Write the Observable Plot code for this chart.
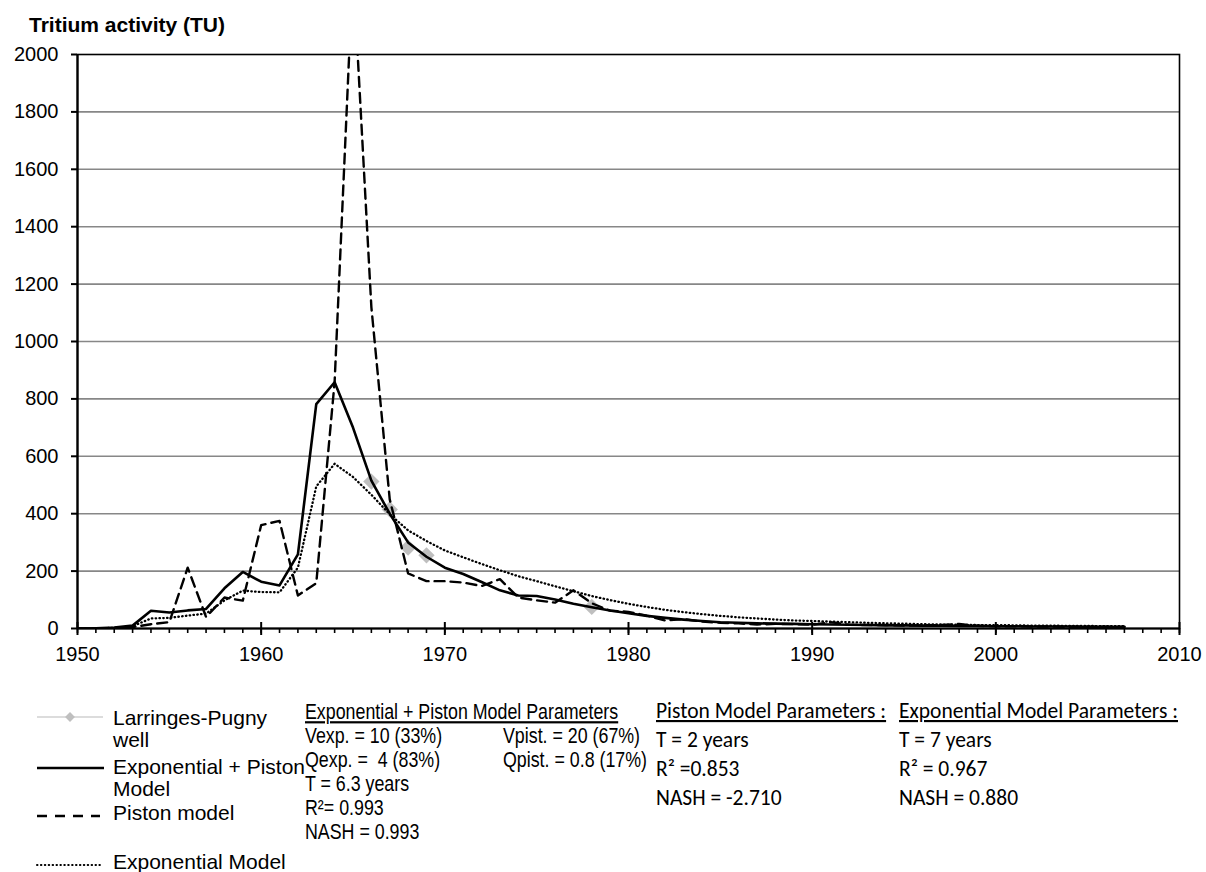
<!DOCTYPE html>
<html><head><meta charset="utf-8">
<script src="https://cdn.jsdelivr.net/npm/d3@7"></script>
<script src="https://cdn.jsdelivr.net/npm/@observablehq/plot@0.6"></script>
<style>
body{margin:0;background:#fff;width:1206px;height:872px;overflow:hidden;position:relative;font-family:"Liberation Sans",Arial,sans-serif;}
#title{position:absolute;left:29px;top:14px;font-weight:bold;font-size:21px;line-height:21px;color:#000;white-space:nowrap;}
#chart svg{display:block;}
#legend{display:block;}
#legend text{white-space:pre;}
</style></head><body>
<div id="title">Tritium activity (TU)</div>
<div id="chart"></div>
<svg id="legend" width="1206" height="192"></svg>
<script>
const years = [1950,1951,1952,1953,1954,1955,1956,1957,1958,1959,1960,1961,1962,1963,1964,1965,1966,1967,1968,1969,
  1970,1971,1972,1973,1974,1975,1976,1977,1978,1979,1980,1981,1982,1983,1984,1985,1986,1987,1988,1989,
  1990,1991,1992,1993,1994,1995,1996,1997,1998,1999,2000,2001,2002,2003,2004,2005,2006,2007];
const expPiston = [0,1,3,10,62,56,63,68,140,197,163,150,258,782,858,700,515,400,300,250,
  212,190,162,133,115,113,101,86,74,63,53,44,37,31,26,22,20,18,17,16,
  15,14,13,12,11,11,10,10,9,9,8,8,7,7,7,6,6,6];
const piston = [0,0,1,5,15,22,212,40,108,97,360,375,115,158,860,2300,1120,450,192,165,
  165,160,148,172,108,98,90,133,88,62,58,45,28,33,24,20,18,14,16,15,
  13,22,13,12,12,10,11,12,16,9,8,8,7,7,6,6,6,5];
const exponential = [0,1,2,8,35,37,45,52,98,132,127,126,212,495,574,528,466,398,342,305,
  272,248,225,203,182,165,147,130,113,99,86,75,65,57,50,44,39,35,31,28,
  26,24,22,20,18,17,15,14,13,12,12,11,10,10,9,9,8,8];
const obsYears = [1966,1967,1968,1969,1978];
const obsValues = [512,415,282,255,75];
const yTicks = [0,200,400,600,800,1000,1200,1400,1600,1800,2000];
const xTicks = [1950,1960,1970,1980,1990,2000,2010];
const xMinorTicks = d3.range(1950, 2011);

const rows = vals => years.map((y, i) => ({year: y, value: vals[i]}));
const obs = obsYears.map((y, i) => ({year: y, value: obsValues[i]}));

const plot = Plot.plot({
  width: 1206, height: 680,
  marginLeft: 77, marginRight: 27, marginTop: 54, marginBottom: 52,
  style: {fontFamily: "'Liberation Sans', Arial, sans-serif", fontSize: "20px", color: "#000", background: "#fff", overflow: "visible"},
  x: {domain: [1950, 2010], label: null},
  y: {domain: [0, 2000], label: null},
  marks: [
    Plot.ruleY(yTicks.slice(1, -1), {stroke: "#878787", strokeWidth: 1.6}),
    Plot.dot(obs, {x: "year", y: "value", symbol: "square", r: 6.5, rotate: 45, fill: "#bfbfbf", stroke: "none"}),
    Plot.line(rows(exponential), {x: "year", y: "value", stroke: "#000", strokeWidth: 2.3, strokeDasharray: "0.5,3.3", strokeLinecap: "round", clip: true}),
    Plot.line(rows(piston), {x: "year", y: "value", stroke: "#000", strokeWidth: 2.4, strokeDasharray: "10,6", clip: true}),
    Plot.line(rows(expPiston), {x: "year", y: "value", stroke: "#000", strokeWidth: 2.6, clip: true}),
    Plot.frame({stroke: "#000", strokeWidth: 1.6}),
    Plot.ruleX([1950], {stroke: "#000", strokeWidth: 2.2}),
    Plot.ruleY([0], {stroke: "#000", strokeWidth: 2.2}),
    Plot.axisY({ticks: yTicks, tickSize: 6, tickPadding: 13, tickFormat: d => String(d), strokeWidth: 2}),
    Plot.axisX({ticks: xMinorTicks, tickSize: 5, tickFormat: () => "", strokeWidth: 1.6}),
    Plot.ruleX(xTicks, {y1: 0, y2: 0, insetTop: -6, insetBottom: -7, stroke: "#000", strokeWidth: 2}),
    Plot.axisX({ticks: xTicks, tickSize: 0, tickPadding: 18, tickFormat: d => String(d)})
  ]
});
document.getElementById("chart").appendChild(plot);

// Legend and parameter text below the chart
const lg = d3.select("#legend");
const Y0 = 680;
const arial = "'Liberation Sans', Arial, sans-serif";
const calibri = "Carlito, Calibri, Lato, sans-serif";

function txt(x, y, s, opts = {}) {
  const t = lg.append("text")
    .attr("font-family", opts.font || arial).attr("font-size", opts.size || 21)
    .attr("fill", "#000").text(s);
  if (opts.sx) t.attr("transform", `translate(${x},${y - Y0}) scale(${opts.sx},1)`);
  else t.attr("x", x).attr("y", y - Y0);
  if (opts.underline) t.attr("text-decoration", "underline");
  return t;
}
// Arial Narrow look-alike: Liberation Sans condensed horizontally
const nar = (x, y, s, u) => txt(x, y, s, {size: 22, sx: 0.81, underline: u});
const cal = (x, y, s, u) => txt(x, y, s, {font: calibri, size: 21.5, underline: u});

function seg(x1, x2, y, opts) {
  lg.append("line").attr("x1", x1).attr("x2", x2).attr("y1", y - Y0).attr("y2", y - Y0)
    .attr("stroke", opts.stroke || "#000").attr("stroke-width", opts.w || 2)
    .attr("stroke-dasharray", opts.dash || null).attr("stroke-linecap", opts.cap || "butt");
}
// Larringes-Pugny well
seg(37, 103, 717, {stroke: "#d0d0d0", w: 1.5});
lg.append("rect").attr("x", -3.5).attr("y", -3.5).attr("width", 7).attr("height", 7)
  .attr("fill", "#bfbfbf").attr("transform", `translate(70,${717 - Y0}) rotate(45)`);
txt(113, 725, "Larringes-Pugny");
txt(113, 747, "well");
// Exponential + Piston
seg(37, 104, 768, {w: 2.6});
txt(113, 774, "Exponential + Piston");
txt(113, 796, "Model");
// Piston
seg(37, 100, 816, {w: 2.4, dash: "10,8"});
txt(113, 820, "Piston model");
// Exponential
seg(37, 103, 865, {w: 2, dash: "0.5,3.4", cap: "round"});
txt(113, 869, "Exponential Model");

// Exponential + Piston parameters
nar(305, 719, "Exponential + Piston Model Parameters", true);
nar(305, 743, "Vexp. = 10 (33%)");
nar(503, 743, "Vpist. = 20 (67%)");
nar(305, 767, "Qexp. =  4 (83%)");
nar(503, 767, "Qpist. = 0.8 (17%)");
nar(305, 791, "T = 6.3 years");
nar(305, 815, "R²= 0.993");
nar(305, 839, "NASH = 0.993");

// Piston parameters
cal(656, 718, "Piston Model Parameters :", true);
cal(656, 747, "T = 2 years");
cal(656, 776, "R² =0.853");
cal(656, 805, "NASH = -2.710");

// Exponential parameters
cal(899, 718, "Exponential Model Parameters :", true);
cal(899, 747, "T = 7 years");
cal(899, 776, "R² = 0.967");
cal(899, 805, "NASH = 0.880");
</script>
</body></html>
